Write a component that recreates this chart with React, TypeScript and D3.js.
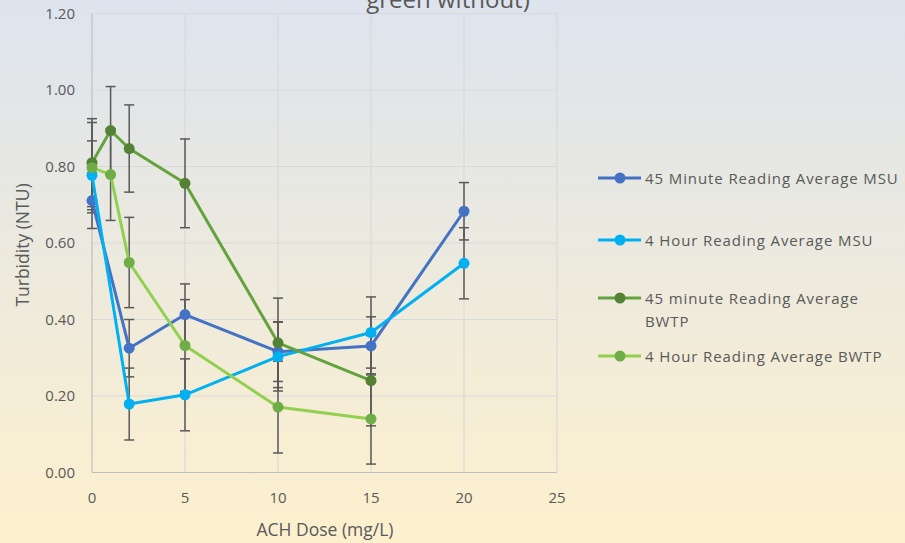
import React, { useRef, useEffect } from 'react';
import * as d3 from 'd3';

// doses (mg/L) for each site
const msuDose = [0, 2, 5, 10, 15, 20];
const bwtpDose = [0, 1, 2, 5, 10, 15];

const msu45 = [0.711, 0.325, 0.413, 0.316, 0.331, 0.683];
const msu45Err = [0.073, 0.075, 0.08, 0.078, 0.076, 0.075];
const msu4h = [0.777, 0.179, 0.203, 0.303, 0.366, 0.547];
const msu4hErr = [0.09, 0.094, 0.094, 0.09, 0.093, 0.093];
const bwtp45 = [0.81, 0.894, 0.847, 0.756, 0.339, 0.24];
const bwtp45Err = [0.115, 0.115, 0.114, 0.116, 0.117, 0.118];
const bwtp4h = [0.797, 0.779, 0.549, 0.332, 0.171, 0.14];
const bwtp4hErr = [0.118, 0.12, 0.118, 0.12, 0.12, 0.118];

const seriesNames = [
  '45 Minute Reading Average MSU',
  '4 Hour Reading Average MSU',
  '45 minute Reading Average BWTP',
  '4 Hour Reading Average BWTP',
];

const xTicks = [0, 5, 10, 15, 20, 25];
const yTicks = [0, 0.2, 0.4, 0.6, 0.8, 1.0, 1.2];

type Series = { name: string; x: number[]; y: number[]; err: number[]; line: string; marker: string };

const series: Series[] = [
  { name: seriesNames[0], x: msuDose, y: msu45, err: msu45Err, line: '#4472C4', marker: '#4472C4' },
  { name: seriesNames[1], x: msuDose, y: msu4h, err: msu4hErr, line: '#00B0F0', marker: '#00B0F0' },
  { name: seriesNames[2], x: bwtpDose, y: bwtp45, err: bwtp45Err, line: '#64a23e', marker: '#548235' },
  { name: seriesNames[3], x: bwtpDose, y: bwtp4h, err: bwtp4hErr, line: '#92D050', marker: '#70AD47' },
];

const App: React.FC = () => {
  const svgRef = useRef<SVGSVGElement>(null);

  useEffect(() => {
    const svg = d3.select(svgRef.current);
    svg.selectAll('*').remove();

    const width = 905;
    const height = 543;
    const font = "'Open Sans', 'Noto Sans', sans-serif";
    const textColor = '#595959';

    // background gradient
    const defs = svg.append('defs');
    const grad = defs.append('linearGradient').attr('id', 'bg').attr('x1', 0).attr('y1', 0).attr('x2', 0).attr('y2', 1);
    grad.append('stop').attr('offset', '0%').attr('stop-color', '#dde4ee');
    grad.append('stop').attr('offset', '100%').attr('stop-color', '#fdf0cd');
    svg.append('rect').attr('width', width).attr('height', height).attr('fill', 'url(#bg)');

    const x = d3.scaleLinear().domain([0, 25]).range([92, 557]);
    const y = d3.scaleLinear().domain([0, 1.2]).range([472.5, 13.5]);

    // gridlines
    const grid = svg.append('g').attr('stroke', '#d9d9d9').attr('stroke-width', 1.2);
    grid.selectAll('line.h').data(yTicks.slice(1)).join('line')
      .attr('x1', x(0)).attr('x2', x(25)).attr('y1', d => y(d)).attr('y2', d => y(d));
    grid.selectAll('line.v').data(xTicks.slice(1)).join('line')
      .attr('y1', y(0)).attr('y2', y(1.2)).attr('x1', d => x(d)).attr('x2', d => x(d));

    // axis lines
    svg.append('line').attr('x1', x(0)).attr('x2', x(0)).attr('y1', y(0)).attr('y2', y(1.2))
      .attr('stroke', '#bfbfbf').attr('stroke-width', 1.2);
    svg.append('line').attr('x1', x(0)).attr('x2', x(25)).attr('y1', y(0)).attr('y2', y(0))
      .attr('stroke', '#bfbfbf').attr('stroke-width', 1.2);

    // tick labels
    svg.append('g').selectAll('text').data(yTicks).join('text')
      .attr('x', 75).attr('y', d => y(d) + 5)
      .attr('text-anchor', 'end').attr('font-family', font).attr('font-size', 15).attr('fill', textColor)
      .text(d => d.toFixed(2));
    svg.append('g').selectAll('text').data(xTicks).join('text')
      .attr('x', d => x(d)).attr('y', 503)
      .attr('text-anchor', 'middle').attr('font-family', font).attr('font-size', 15).attr('fill', textColor)
      .text(d => String(d));

    // axis titles
    svg.append('text').attr('transform', `translate(29,245) rotate(-90)`)
      .attr('text-anchor', 'middle').attr('font-family', font).attr('font-size', 17.5).attr('fill', textColor)
      .text('Turbidity (NTU)');
    svg.append('text').attr('x', 325).attr('y', 536)
      .attr('text-anchor', 'middle').attr('font-family', font).attr('font-size', 17.5).attr('fill', textColor)
      .text('ACH Dose (mg/L)');

    // title (only the last line shows)
    svg.append('text').attr('x', 448).attr('y', 8)
      .attr('text-anchor', 'middle').attr('font-family', font).attr('font-size', 24).attr('fill', textColor)
      .text('green without)');

    // error bars
    const eb = svg.append('g').attr('stroke', '#595959').attr('stroke-width', 1.5);
    series.forEach(s => {
      s.x.forEach((xv, i) => {
        const px = x(xv);
        const top = y(s.y[i] + s.err[i]);
        const bot = y(s.y[i] - s.err[i]);
        eb.append('line').attr('x1', px).attr('x2', px).attr('y1', top).attr('y2', bot);
        eb.append('line').attr('x1', px - 5).attr('x2', px + 5).attr('y1', top).attr('y2', top);
        eb.append('line').attr('x1', px - 5).attr('x2', px + 5).attr('y1', bot).attr('y2', bot);
      });
    });

    // lines and markers
    series.forEach(s => {
      const pts: [number, number][] = s.x.map((xv, i) => [x(xv), y(s.y[i])]);
      svg.append('path').attr('d', d3.line()(pts)!)
        .attr('fill', 'none').attr('stroke', s.line).attr('stroke-width', 3).attr('stroke-linejoin', 'round');
      svg.append('g').selectAll('circle').data(pts).join('circle')
        .attr('cx', d => d[0]).attr('cy', d => d[1]).attr('r', 5.5).attr('fill', s.marker);
    });

    // legend
    const legendY = [178, 240, 298, 356];
    series.forEach((s, i) => {
      const g = svg.append('g').attr('transform', `translate(0,${legendY[i]})`);
      g.append('line').attr('x1', 598).attr('x2', 641).attr('y1', 0).attr('y2', 0)
        .attr('stroke', s.line).attr('stroke-width', 3);
      g.append('circle').attr('cx', 620).attr('cy', 0).attr('r', 5.5).attr('fill', s.marker);
      const t = g.append('text').attr('x', 645).attr('y', 5.5)
        .attr('font-family', font).attr('font-size', 15).attr('fill', textColor).attr('letter-spacing', 0.9);
      if (i === 2) {
        t.append('tspan').attr('x', 645).attr('dy', 0).text('45 minute Reading Average');
        t.append('tspan').attr('x', 645).attr('dy', 23).text('BWTP');
      } else {
        t.text(s.name);
      }
    });
  }, []);

  return (
    <svg ref={svgRef} width={905} height={543}
      style={{ position: 'absolute', left: 0, top: 0, display: 'block' }} />
  );
};

export default App;
